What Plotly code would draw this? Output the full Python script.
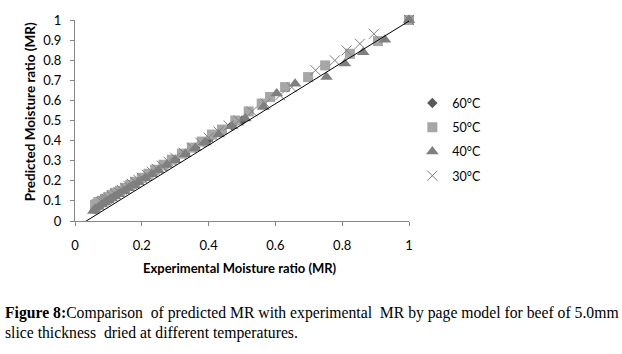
import plotly.graph_objects as go

# ---------------- data ----------------
exp_60 = [1.0, 0.5, 0.47, 0.44, 0.40, 0.36, 0.33, 0.30, 0.27, 0.245, 0.22, 0.20, 0.18, 0.16, 0.145, 0.13, 0.115, 0.10, 0.09, 0.08, 0.07, 0.06]
pred_60 = [1.0, 0.5, 0.475, 0.445, 0.405, 0.365, 0.335, 0.305, 0.275, 0.25, 0.225, 0.205, 0.185, 0.165, 0.15, 0.135, 0.12, 0.105, 0.095, 0.083, 0.072, 0.058]

exp_50 = [1.0, 0.907, 0.823, 0.749, 0.698, 0.629, 0.584, 0.559, 0.52, 0.48, 0.44, 0.41, 0.38, 0.35, 0.32, 0.29, 0.265, 0.24, 0.22, 0.20, 0.18, 0.165, 0.15, 0.135, 0.12, 0.11, 0.10, 0.09, 0.08, 0.07, 0.065, 0.06]
pred_50 = [1.0, 0.895, 0.832, 0.774, 0.716, 0.666, 0.617, 0.584, 0.545, 0.50, 0.455, 0.43, 0.395, 0.365, 0.335, 0.305, 0.28, 0.255, 0.235, 0.215, 0.195, 0.18, 0.165, 0.15, 0.14, 0.13, 0.12, 0.11, 0.10, 0.095, 0.085, 0.08]

exp_40 = [1.0, 0.928, 0.863, 0.808, 0.753, 0.659, 0.604, 0.564, 0.51, 0.47, 0.43, 0.39, 0.36, 0.33, 0.30, 0.275, 0.25, 0.23, 0.21, 0.19, 0.175, 0.16, 0.145, 0.13, 0.12, 0.11, 0.10, 0.09, 0.08, 0.07, 0.06, 0.055]
pred_40 = [1.0, 0.902, 0.84, 0.783, 0.716, 0.683, 0.634, 0.567, 0.51, 0.472, 0.43, 0.39, 0.362, 0.332, 0.302, 0.278, 0.253, 0.233, 0.213, 0.193, 0.178, 0.163, 0.148, 0.133, 0.122, 0.112, 0.102, 0.092, 0.082, 0.07, 0.06, 0.05]

exp_30 = [1.0, 0.895, 0.853, 0.813, 0.778, 0.72, 0.649, 0.614, 0.57, 0.53, 0.49, 0.46, 0.43, 0.40, 0.375, 0.35, 0.325, 0.30, 0.28, 0.26, 0.245, 0.23, 0.215, 0.20, 0.19, 0.18, 0.17, 0.16, 0.15, 0.14, 0.13, 0.12, 0.11, 0.10, 0.095, 0.09, 0.085, 0.08]
pred_30 = [1.0, 0.931, 0.882, 0.849, 0.799, 0.75, 0.665, 0.625, 0.585, 0.545, 0.50, 0.475, 0.445, 0.415, 0.39, 0.365, 0.34, 0.315, 0.295, 0.275, 0.26, 0.245, 0.23, 0.215, 0.205, 0.195, 0.185, 0.175, 0.165, 0.155, 0.145, 0.135, 0.125, 0.115, 0.11, 0.105, 0.10, 0.095]

fit_x = [-0.015, 1.0]
fit_y = [-0.05, 0.995]

series_names = ["60°C", "50°C", "40°C", "30°C"]
tick_vals_x = [0, 0.2, 0.4, 0.6, 0.8, 1]
tick_text_x = ["0", "0.2", "0.4", "0.6", "0.8", "1"]
tick_vals_y = [0, 0.1, 0.2, 0.3, 0.4, 0.5, 0.6, 0.7, 0.8, 0.9, 1]
tick_text_y = ["0", "0.1", "0.2", "0.3", "0.4", "0.5", "0.6", "0.7", "0.8", "0.9", "1"]

# ---------------- figure ----------------
FONT = "Lato, 'Open Sans', sans-serif"
fig = go.Figure()

styles = [
    (exp_60, pred_60, dict(symbol="diamond", size=8, color="#595959")),
    (exp_50, pred_50, dict(symbol="square", size=10, color="#A6A6A6")),
    (exp_40, pred_40, dict(symbol="triangle-up", size=11, color="#7F7F7F")),
    (exp_30, pred_30, dict(symbol="x-thin", size=10, color="#7F7F7F", line=dict(color="#7F7F7F", width=1))),
]
for (xs, ys, mk), name in zip(styles, series_names):
    fig.add_trace(go.Scatter(x=xs, y=ys, mode="markers", name=name, marker=mk,
                             cliponaxis=False, legendgroup=name))

fig.add_trace(go.Scatter(x=fit_x, y=fit_y, mode="lines", line=dict(color="#000000", width=1),
                         showlegend=False, hoverinfo="skip"))

axis_common = dict(showgrid=False, zeroline=False, showline=True, linecolor="#868686", linewidth=1,
                   ticks="outside", ticklen=4, tickcolor="#868686",
                   tickfont=dict(family=FONT, size=13, color="#000000"))

fig.update_layout(
    width=622, height=354,
    margin=dict(l=75, r=213, t=19.5, b=133),
    paper_bgcolor="white", plot_bgcolor="white",
    xaxis=dict(range=[0, 1], tickvals=tick_vals_x, ticktext=tick_text_x, ticklabelstandoff=8, **axis_common),
    yaxis=dict(range=[0, 1], tickvals=tick_vals_y, ticktext=tick_text_y, ticklabelstandoff=6, **axis_common),
    legend=dict(x=1.01, y=0.66, xanchor="left", yanchor="top", tracegroupgap=5,
                font=dict(family=FONT, size=12.5, color="#000000"), bgcolor="rgba(0,0,0,0)",
                itemwidth=30),
    showlegend=True,
)

fig.add_annotation(text="<b>Predicted Moisture ratio (MR)</b>", xref="paper", yref="paper",
                   x=(30 - 75) / 334, y=(221 - 112) / 201.5, textangle=-90, showarrow=False,
                   xanchor="center", yanchor="middle",
                   font=dict(family=FONT, size=13.5, color="#000000"))
fig.add_annotation(text="<b>Experimental Moisture ratio (MR)</b>", xref="paper", yref="paper",
                   x=(240 - 75) / 334, y=(221 - 268) / 201.5, showarrow=False,
                   xanchor="center", yanchor="middle",
                   font=dict(family=FONT, size=13, color="#000000"))
fig.add_annotation(text="<b>Figure 8:</b>Comparison  of predicted MR with experimental  MR by page model for beef of 5.0mm<br>slice thickness  dried at different temperatures.",
                   xref="paper", yref="paper", x=(3 - 75) / 334, y=(221 - 302) / 201.5,
                   xanchor="left", yanchor="top", align="left", showarrow=False,
                   font=dict(family="'Liberation Serif', 'Times New Roman', serif", size=15.7, color="#000000"))

fig.write_html("out.html")
